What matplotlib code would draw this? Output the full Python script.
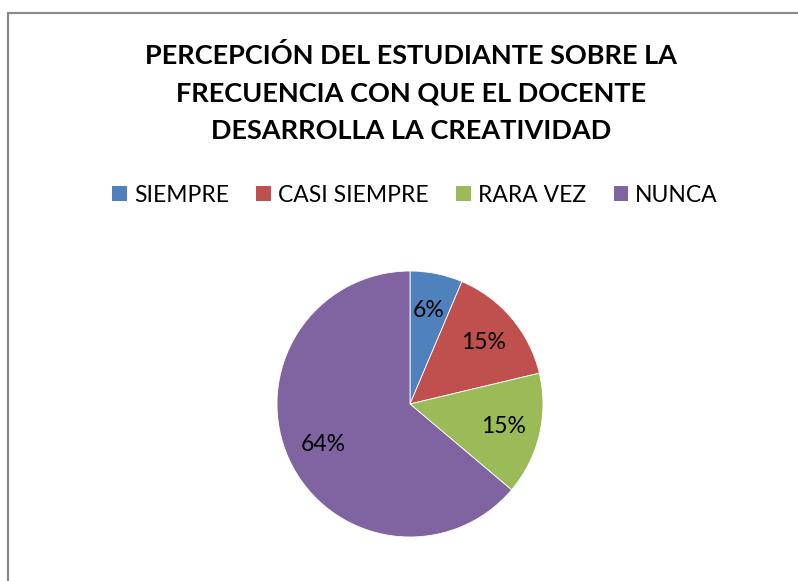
import matplotlib
matplotlib.use("Agg")
import matplotlib.pyplot as plt
from matplotlib.patches import Rectangle, Patch

categories = ["SIEMPRE", "CASI SIEMPRE", "RARA VEZ", "NUNCA"]
counts = [3, 7, 7, 30]
colors = ["#4F81BD", "#C0504D", "#9BBB59", "#8064A2"]
title = "PERCEPCIÓN DEL ESTUDIANTE SOBRE LA\nFRECUENCIA CON QUE EL DOCENTE\nDESARROLLA LA CREATIVIDAD"

plt.rcParams["font.family"] = ["Lato", "DejaVu Sans"]

W, H = 798, 581
fig = plt.figure(figsize=(W / 100, H / 100), dpi=100)
fig.patch.set_facecolor("white")

# chart area border (runs off the right/bottom edges like the screenshot)
fig.patches.append(Rectangle((8 / W, -0.1), 1.2, 1.1 - 13 / H,
                             transform=fig.transFigure, fill=False,
                             edgecolor="#8a8a8a", linewidth=1.6))

fig.text(411 / W, 1 - 93 / H, title, ha="center", va="center",
         fontsize=19.5, fontweight="bold", linespacing=1.66)

cx, cy, r = 410, 404, 133
ax = fig.add_axes([(cx - r) / W, (H - cy - r) / H, 2 * r / W, 2 * r / H])
wedges, texts, autotexts = ax.pie(
    counts, colors=colors, startangle=90, counterclock=False,
    autopct=lambda p: f"{p:.0f}%", pctdistance=0.72,
    wedgeprops=dict(edgecolor="white", linewidth=0.6),
    textprops=dict(fontsize=16.5, color="black"))
ax.set_xlim(-1, 1)
ax.set_ylim(-1, 1)

handles = [Patch(facecolor=c, edgecolor="none") for c in colors]
fig.legend(handles, categories, loc="center", bbox_to_anchor=(415 / W, 1 - 195 / H),
           ncol=4, frameon=False, fontsize=16.5, handlelength=0.65, handleheight=0.65,
           handletextpad=0.3, columnspacing=1.2)

fig.savefig("out.png", dpi=100, facecolor="white")
